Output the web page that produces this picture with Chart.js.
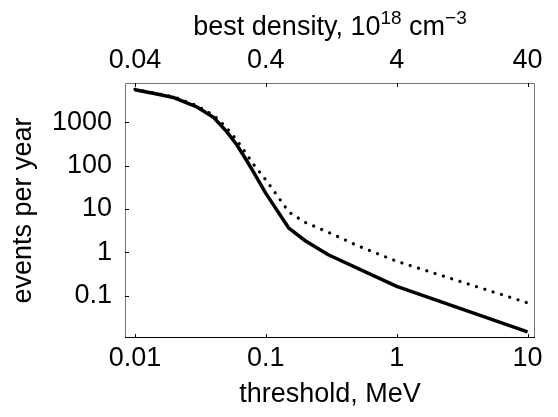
<!DOCTYPE html>
<html>
<head>
<meta charset="utf-8">
<script src="https://cdn.jsdelivr.net/npm/chart.js@4/dist/chart.umd.min.js"></script>
<style>
  html, body { margin: 0; padding: 0; background: #fff; }
  #wrap { width: 558px; height: 417px; }
</style>
</head>
<body>
<div id="wrap"><canvas id="events_chart" width="558" height="417"></canvas></div>
<script>
// threshold (MeV) and events per year
const threshold_solid = [0.01, 0.015, 0.02, 0.03, 0.04, 0.05, 0.06, 0.07, 0.08, 0.1, 0.15, 0.2, 0.3, 1, 10];
const events_solid = [5700, 4450, 3700, 2250, 1300, 620, 305, 145, 74, 23, 3.6, 1.85, 0.88, 0.163, 0.0145];

const threshold_dotted = [0.01, 0.015, 0.02, 0.03, 0.04, 0.05, 0.06, 0.07, 0.08, 0.1, 0.12, 0.15, 0.2, 0.3, 0.5, 1, 10];
const events_dotted = [5800, 4600, 3850, 2400, 1450, 760, 390, 200, 110, 47, 22, 8.5, 4.9, 2.9, 1.43, 0.62, 0.068];

const threshold_ticks = [0.01, 0.1, 1, 10];
const density_ticks = [0.04, 0.4, 4, 40];
const events_ticks = [0.01, 0.1, 1, 10, 100, 1000];
const events_labels = [0.1, 1, 10, 100, 1000];

// best density = 4 x threshold
const density_per_threshold = 4;

const x_min = 0.00839, x_max = 11.4;
const y_min = 0.0105, y_max = 8130;

// top title pieces: [text, superscript?]
const density_title = [["best density, 10", false], ["18", true], [" cm", false], ["\u22123", true]];

const font_family = "'Liberation Sans', Arial, Helvetica, sans-serif";
const big_font = { family: font_family, size: 27 };

function to_points(xs, ys)
{
    return xs.map((x, i) => ({ x: x, y: ys[i] }));
}

function set_ticks(values)
{
    return function (scale) { scale.ticks = values.map(v => ({ value: v })); };
}

function plain_label(value)
{
    return String(Number(value.toPrecision(6)));
}

// frame, short inward tick marks and the top title with superscripts
const frame_plugin =
{
    id: "frame",
    afterDraw(chart)
    {
        const ctx = chart.ctx;
        const a = chart.chartArea;
        const tick_len = 4;
        ctx.save();
        ctx.lineWidth = 1;
        ctx.strokeStyle = "#777";
        ctx.beginPath();
        ctx.moveTo(a.left + 0.5, a.bottom);
        ctx.lineTo(a.left + 0.5, a.top + 0.5);
        ctx.lineTo(a.right - 0.5, a.top + 0.5);
        ctx.lineTo(a.right - 0.5, a.bottom);
        ctx.stroke();
        ctx.strokeStyle = "#000";
        ctx.beginPath();
        ctx.moveTo(a.left, a.bottom - 0.5);
        ctx.lineTo(a.right, a.bottom - 0.5);
        ctx.stroke();

        ctx.beginPath();
        threshold_ticks.forEach(v =>
        {
            const px = Math.round(chart.scales.x.getPixelForValue(v)) + 0.5;
            ctx.moveTo(px, a.bottom);
            ctx.lineTo(px, a.bottom - tick_len);
        });
        density_ticks.forEach(v =>
        {
            const px = Math.round(chart.scales.x2.getPixelForValue(v)) + 0.5;
            ctx.moveTo(px, a.top);
            ctx.lineTo(px, a.top + tick_len);
        });
        events_ticks.forEach(v =>
        {
            const py = Math.round(chart.scales.y.getPixelForValue(v)) + 0.5;
            if (py < a.bottom - 1)
            {
                ctx.moveTo(a.left, py);
                ctx.lineTo(a.left + tick_len, py);
            }
        });
        ctx.stroke();

        // top title
        const main_font = "27px " + font_family;
        const sup_font = "19px " + font_family;
        let total = 0;
        const widths = density_title.map(([text, sup]) =>
        {
            ctx.font = sup ? sup_font : main_font;
            const w = ctx.measureText(text).width;
            total += w;
            return w;
        });
        let x = (a.left + a.right) / 2 - total / 2;
        const baseline = 35;
        ctx.fillStyle = "#000";
        ctx.textAlign = "left";
        ctx.textBaseline = "alphabetic";
        density_title.forEach(([text, sup], i) =>
        {
            ctx.font = sup ? sup_font : main_font;
            ctx.fillText(text, x, sup ? baseline - 11 : baseline);
            x += widths[i];
        });
        ctx.restore();
    }
};

const events_chart = new Chart("events_chart",
{
    type: "line",
    data:
    {
        datasets:
        [
            {
                label: "dotted",
                data: to_points(threshold_dotted, events_dotted),
                borderColor: "#000",
                borderWidth: 3.2,
                borderDash: [0.1, 8.6],
                borderCapStyle: "round",
                pointRadius: 0,
                fill: false,
                tension: 0
            },
            {
                label: "solid",
                data: to_points(threshold_solid, events_solid),
                borderColor: "#000",
                borderWidth: 3.5,
                borderJoinStyle: "round",
                pointRadius: 0,
                fill: false,
                tension: 0
            }
        ]
    },
    options:
    {
        animation: false,
        responsive: false,
        devicePixelRatio: 1,
        layout: { padding: { left: 0, right: 23, top: 0, bottom: 0 } },
        plugins:
        {
            legend: { display: false },
            tooltip: { enabled: false }
        },
        scales:
        {
            x:
            {
                type: "logarithmic",
                position: "bottom",
                min: x_min,
                max: x_max,
                afterBuildTicks: set_ticks(threshold_ticks),
                afterFit: s => { s.height = 79; },
                grid: { display: false, drawTicks: false },
                border: { display: false },
                ticks: { color: "#000", font: big_font, padding: 4, maxRotation: 0, autoSkip: false, callback: plain_label },
                title: { display: true, text: "threshold, MeV", color: "#000", font: big_font, padding: { top: 0, bottom: 6 } }
            },
            x2:
            {
                type: "logarithmic",
                position: "top",
                display: true,
                min: x_min * density_per_threshold,
                max: x_max * density_per_threshold,
                afterBuildTicks: set_ticks(density_ticks),
                afterFit: s => { s.height = 83; },
                grid: { display: false, drawTicks: false },
                border: { display: false },
                ticks: { color: "#000", font: big_font, padding: 6, maxRotation: 0, autoSkip: false, callback: plain_label },
                title: { display: false }
            },
            y:
            {
                type: "logarithmic",
                position: "left",
                min: y_min,
                max: y_max,
                afterBuildTicks: set_ticks(events_labels),
                afterFit: s => { s.width = 125; },
                grid: { display: false, drawTicks: false },
                border: { display: false },
                ticks: { color: "#000", font: big_font, padding: 13, autoSkip: false, callback: plain_label },
                title: { display: true, text: "events per year", color: "#000", font: big_font, padding: { top: 7, bottom: 0 } }
            }
        }
    },
    plugins: [frame_plugin]
});
</script>
</body>
</html>
